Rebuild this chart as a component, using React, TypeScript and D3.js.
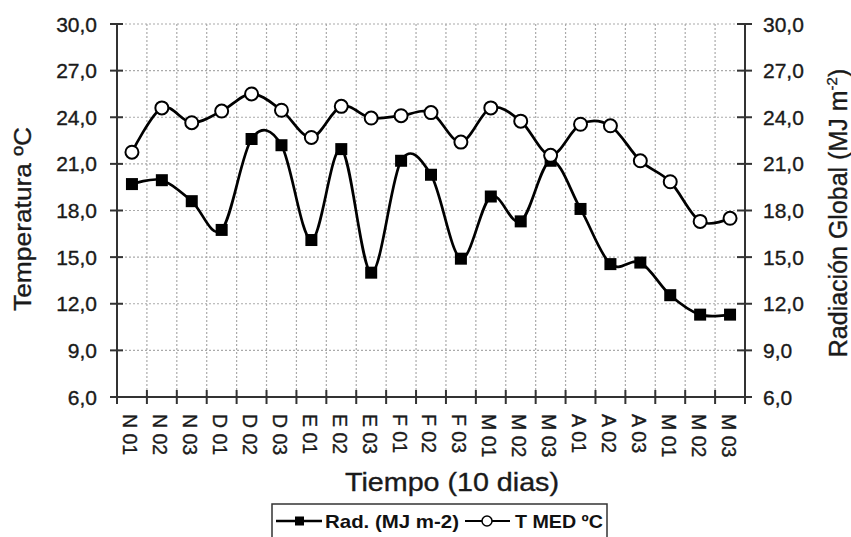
import React from "react";
import * as d3 from "d3";

const categories = ["N 01","N 02","N 03","D 01","D 02","D 03","E 01","E 02","E 03","F 01","F 02","F 03","M 01","M 02","M 03","A 01","A 02","A 03","M 01","M 02","M 03"];
const radValues = [19.7,19.95,18.6,16.75,22.6,22.2,16.1,21.95,14.0,21.2,20.3,14.9,18.9,17.3,21.2,18.1,14.55,14.65,12.55,11.3,11.3];
const tmedValues = [21.75,24.6,23.65,24.4,25.5,24.45,22.7,24.7,23.95,24.1,24.3,22.4,24.6,23.75,21.55,23.55,23.45,21.2,19.85,17.3,17.5];
const yTicks = [6,9,12,15,18,21,24,27,30];

const W = 851, H = 537;
const L = 117, R = 745, T = 24, B = 397;
const FONT = "'Liberation Sans', Arial, sans-serif";
const TXT = "#1a1a1a";

export default function App() {
  const x = d3.scaleBand<number>().domain(d3.range(categories.length)).range([L, R]).paddingInner(0).paddingOuter(0);
  const y = d3.scaleLinear().domain([6, 30]).range([B, T]);
  const cx = (i: number) => (x(i) as number) + x.bandwidth() / 2;
  const fmt = (v: number) => v.toFixed(1).replace(".", ",");
  const line = d3.line<number>().x((_, i) => cx(i)).y((v) => y(v)).curve(d3.curveCardinal.tension(0));
  const boundaries = d3.range(categories.length + 1).map((i) => L + i * x.bandwidth());
  const heavy = { stroke: TXT, strokeWidth: 0.35 };

  return (
    <svg width={W} height={H} style={{ position: "absolute", left: 0, top: 0, background: "#fff" }} fontFamily={FONT}>
      <rect x={0} y={0} width={W} height={H} fill="#fff" />
      {/* grid */}
      {yTicks.filter((t) => t > 6).map((t) => (
        <line key={"gy" + t} x1={L} x2={R} y1={y(t)} y2={y(t)} stroke="#aaa" strokeWidth={1.2} strokeDasharray="2,2" />
      ))}
      {boundaries.slice(1, -1).map((bx, i) => (
        <line key={"gx" + i} x1={bx} x2={bx} y1={T} y2={B} stroke="#aaa" strokeWidth={1.2} strokeDasharray="2,2" />
      ))}
      {/* axes */}
      <line x1={L} x2={L} y1={T} y2={B} stroke="#333" strokeWidth={2} />
      <line x1={R} x2={R} y1={T} y2={B} stroke="#333" strokeWidth={2} />
      <line x1={L} x2={R} y1={B} y2={B} stroke="#333" strokeWidth={2} />
      {yTicks.map((t) => (
        <g key={"ty" + t}>
          <line x1={L - 7} x2={L + 6} y1={y(t)} y2={y(t)} stroke="#333" strokeWidth={2} />
          <line x1={R - 8} x2={R + 7} y1={y(t)} y2={y(t)} stroke="#333" strokeWidth={2} />
          <text x={97} y={y(t)} dy="0.36em" textAnchor="end" fontSize={21} fill={TXT} {...heavy}>{fmt(t)}</text>
          <text x={763} y={y(t)} dy="0.36em" textAnchor="start" fontSize={21} fill={TXT} {...heavy}>{fmt(t)}</text>
        </g>
      ))}
      {boundaries.map((bx, i) => (
        <line key={"tx" + i} x1={bx} x2={bx} y1={B - 7} y2={B + 7} stroke="#333" strokeWidth={2} />
      ))}
      {categories.map((c, i) => (
        <text key={"xl" + i} transform={`translate(${cx(i) - 1.5},${414}) rotate(90)`} dy="0.36em" fontSize={19.5} fill={TXT} {...heavy}>{c}</text>
      ))}
      {/* titles */}
      <text transform={`translate(31,219) rotate(-90)`} textAnchor="middle" fontSize={24} fill={TXT} textLength={184} lengthAdjust="spacingAndGlyphs" {...heavy}>Temperatura ºC</text>
      <text transform={`translate(847,213) rotate(-90)`} textAnchor="middle" fontSize={25} fill={TXT} {...heavy}>
        Radiación Global (MJ m<tspan fontSize={15} dy={-10}>-2</tspan><tspan dy={10}>)</tspan>
      </text>
      <text x={452} y={491} textAnchor="middle" fontSize={25} fill={TXT} textLength={214} lengthAdjust="spacingAndGlyphs" {...heavy}>Tiempo (10 dias)</text>
      {/* series */}
      <path d={line(radValues) || ""} fill="none" stroke="#000" strokeWidth={2.7} />
      <path d={line(tmedValues) || ""} fill="none" stroke="#000" strokeWidth={2.7} />
      {radValues.map((v, i) => (
        <rect key={"r" + i} x={cx(i) - 6} y={y(v) - 6} width={12} height={12} fill="#000" />
      ))}
      {tmedValues.map((v, i) => (
        <circle key={"c" + i} cx={cx(i)} cy={y(v)} r={6.5} fill="#fff" stroke="#000" strokeWidth={2} />
      ))}
      {/* legend */}
      <rect x={272} y={504} width={335} height={60} fill="#fff" stroke="#333" strokeWidth={1.5} />
      <line x1={276} x2={322} y1={521} y2={521} stroke="#000" strokeWidth={2.5} />
      <rect x={295} y={516.5} width={9} height={9} fill="#000" />
      <text x={325} y={528} fontSize={19} fontWeight="bold" fill="#111" textLength={134} lengthAdjust="spacingAndGlyphs">Rad. (MJ m-2)</text>
      <line x1={465} x2={510} y1={521} y2={521} stroke="#000" strokeWidth={2} />
      <circle cx={487} cy={521} r={5} fill="#fff" stroke="#000" strokeWidth={1.5} />
      <text x={515} y={528} fontSize={19} fontWeight="bold" fill="#111" textLength={88} lengthAdjust="spacingAndGlyphs">T MED ºC</text>
    </svg>
  );
}
